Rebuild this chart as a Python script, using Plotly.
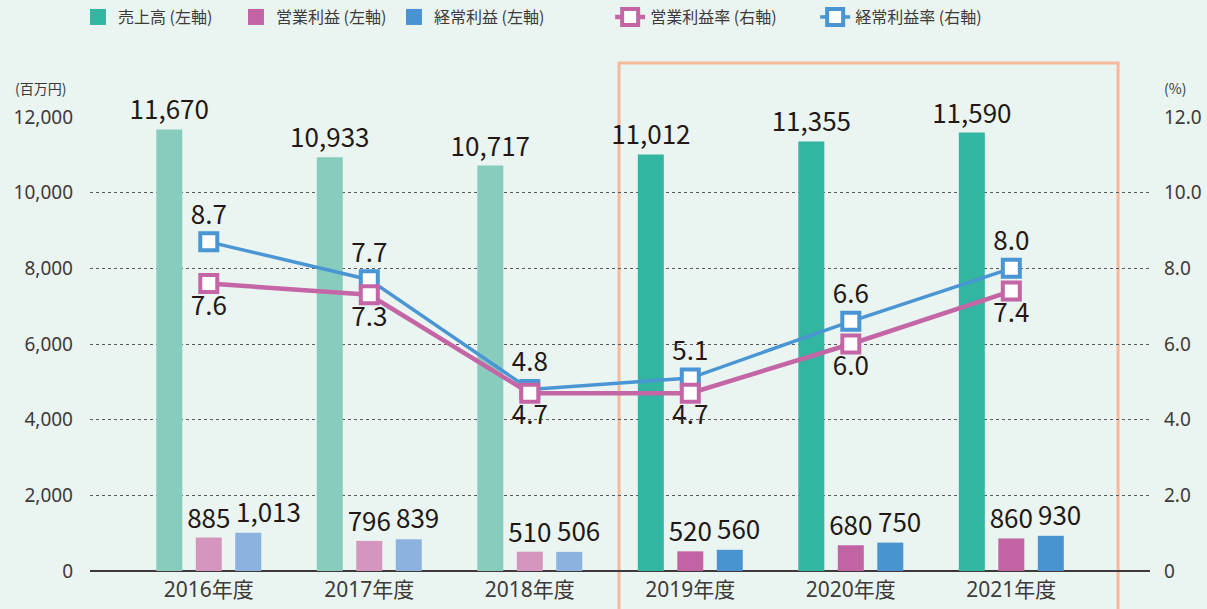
import plotly.graph_objects as go

years = ["2016年度", "2017年度", "2018年度", "2019年度", "2020年度", "2021年度"]
sales = [11670, 10933, 10717, 11012, 11355, 11590]
op_profit = [885, 796, 510, 520, 680, 860]
ord_profit = [1013, 839, 506, 560, 750, 930]
op_margin = [7.6, 7.3, 4.7, 4.7, 6.0, 7.4]
ord_margin = [8.7, 7.7, 4.8, 5.1, 6.6, 8.0]

names = ["売上高 (左軸)", "営業利益 (左軸)", "経常利益 (左軸)", "営業利益率 (右軸)", "経常利益率 (右軸)"]

C_SALES = "#32B5A1"; C_SALES_L = "#88CCBD"
C_OP = "#C264A3"; C_OP_L = "#D496BF"
C_ORD = "#4893D0"; C_ORD_L = "#8CB3DF"
C_OPL = "#C466A6"; C_ORDL = "#4A95D3"
BG = "#EAF4F0"
TXT = "#231815"; TICK = "#3E3A39"
NUMFONT = "Noto Sans CJK JP"

n_pale = 3
def cols(dark, light):
    return [light] * n_pale + [dark] * (len(years) - n_pale)

fig = go.Figure()
lab = dict(size=26, color=TXT, family=NUMFONT)

fig.add_trace(go.Bar(x=years, y=sales, marker_color=cols(C_SALES, C_SALES_L), marker_line_width=0,
                     texttemplate="%{y:,}", textposition="outside", textfont=lab,
                     cliponaxis=False, constraintext="none", showlegend=False, hoverinfo="skip"))
fig.add_trace(go.Bar(x=years, y=op_profit, marker_color=cols(C_OP, C_OP_L), marker_line_width=0,
                     texttemplate="%{y:,}", textposition="outside", textfont=lab,
                     cliponaxis=False, constraintext="none", showlegend=False, hoverinfo="skip"))
fig.add_trace(go.Bar(x=years, y=ord_profit, marker_color=cols(C_ORD, C_ORD_L), marker_line_width=0,
                     showlegend=False, hoverinfo="skip"))

# ordinary-profit labels, left aligned at the bar's left edge
for yr, v in zip(years, ord_profit):
    fig.add_annotation(x=yr, y=v, text=f"{v:,}", showarrow=False, xanchor="left", yanchor="bottom",
                       xshift=25, yshift=2, font=lab)

# lines (ordinary first so operating sits on top)
fig.add_trace(go.Scatter(x=years, y=ord_margin, yaxis="y2", mode="lines+markers+text",
                         line=dict(color=C_ORDL, width=3.5),
                         marker=dict(symbol="square", size=17, color="white", line=dict(color=C_ORDL, width=4)),
                         text=[f"{v:.1f}" for v in ord_margin], textposition="top center",
                         textfont=lab, cliponaxis=False, name=names[4], legendrank=5,
                         legend="legend2", hoverinfo="skip"))
fig.add_trace(go.Scatter(x=years, y=op_margin, yaxis="y2", mode="lines+markers+text",
                         line=dict(color=C_OPL, width=4.5),
                         marker=dict(symbol="square", size=17, color="white", line=dict(color=C_OPL, width=4)),
                         text=[f"{v:.1f}" for v in op_margin], textposition="bottom center",
                         textfont=lab, cliponaxis=False, name=names[3], legendrank=4,
                         legend="legend2", hoverinfo="skip"))

# legend swatches for the bars
for nm, c, r in [(names[0], C_SALES, 1), (names[1], C_OP, 2), (names[2], C_ORD, 3)]:
    fig.add_trace(go.Scatter(x=[None], y=[None], mode="markers", name=nm, legendrank=r,
                             marker=dict(symbol="square", size=16, color=c)))

fig.add_shape(type="rect", xref="x", yref="paper", x0=2.556, x1=5.665, y0=-0.2, y1=1.119,
              line=dict(color="#F6B99C", width=3), fillcolor="rgba(0,0,0,0)", layer="below")

fig.add_annotation(text="(百万円)", xref="paper", yref="paper", x=-0.047, y=1.064, xanchor="center",
                   yanchor="middle", showarrow=False, font=dict(size=14, color=TICK, family=NUMFONT))
fig.add_annotation(text="(%)", xref="paper", yref="paper", x=1.0236, y=1.064, xanchor="center",
                   yanchor="middle", showarrow=False, font=dict(size=14, color=TICK, family=NUMFONT))

legfont = dict(size=16, color=TICK, family=NUMFONT)
fig.update_layout(
    width=1207, height=609,
    paper_bgcolor=BG, plot_bgcolor=BG,
    margin=dict(l=90, r=57, t=117, b=38, autoexpand=False),
    barmode="group", bargap=0.262, bargroupgap=0.342,
    showlegend=True,
    legend=dict(orientation="h", xref="container", yref="container", x=0.0646, xanchor="left",
                y=0.972, yanchor="middle", font=legfont, bgcolor="rgba(0,0,0,0)",
                itemclick=False, traceorder="normal", entrywidth=113),
    legend2=dict(orientation="h", xref="container", yref="container", x=0.5055, xanchor="left",
                 y=0.972, yanchor="middle", font=legfont, bgcolor="rgba(0,0,0,0)",
                 itemclick=False, traceorder="normal", entrywidth=160),
    xaxis=dict(type="category", range=[-0.74, 5.864], showgrid=False, zeroline=False, showline=False,
               ticks="", tickfont=dict(size=21, color=TICK, family="Noto Sans, Noto Sans CJK JP"),
               ticklabelstandoff=4, automargin=False),
    yaxis=dict(range=[0, 12000], tickvals=[0, 2000, 4000, 6000, 8000, 10000, 12000], tickformat=",",
               showgrid=True, gridcolor="#5a5a5a", griddash="dot", gridwidth=1,
               zeroline=True, zerolinecolor="#3E3A39", zerolinewidth=1.5, showline=False,
               ticks="", tickfont=dict(size=19, color=TICK, family="Noto Sans"), ticklabelstandoff=16,
               automargin=False),
    yaxis2=dict(range=[0, 12], overlaying="y", side="right", tickvals=[0, 2, 4, 6, 8, 10, 12],
                ticktext=["0", "2.0", "4.0", "6.0", "8.0", "10.0", "12.0"],
                showgrid=False, zeroline=False, showline=False, ticks="",
                tickfont=dict(size=19, color=TICK, family="Noto Sans"), ticklabelstandoff=13,
                automargin=False),
)

fig.write_html("out.html", config={"displayModeBar": False, "staticPlot": True},
               post_script="document.body.style.margin='0';document.body.style.overflow='hidden';"
                           "document.body.style.background='" + BG + "';")
